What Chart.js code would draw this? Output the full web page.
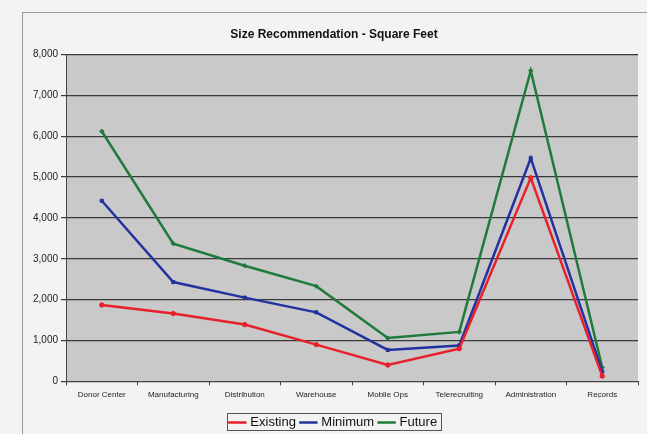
<!DOCTYPE html>
<html>
<head>
<meta charset="utf-8">
<script src="https://cdn.jsdelivr.net/npm/chart.js@4"></script>
<style>
  html, body { margin: 0; padding: 0; background: #f3f3f1; }
  #wrap { position: relative; width: 647px; height: 434px; }
</style>
</head>
<body>
<div id="wrap"><canvas id="line" width="647" height="434"></canvas></div>
<script>
'use strict';

const categories = ['Donor Center', 'Manufacturing', 'Distribution', 'Warehouse',
    'Mobile Ops', 'Telerecruiting', 'Administration', 'Records'];
const existing = [1870, 1660, 1390, 900, 400, 800, 4980, 130];
const minimum = [4420, 2430, 2050, 1690, 770, 880, 5460, 240];
const future = [6120, 3370, 2830, 2330, 1060, 1210, 7600, 340];
const yTicks = [0, 1000, 2000, 3000, 4000, 5000, 6000, 7000, 8000];

// gray plot area + outer frame + box round the legend
const paintBox = {
    id: 'paintBox',
    beforeDraw(chart) {
        const ctx = chart.ctx;
        const a = chart.chartArea;
        ctx.save();
        ctx.strokeStyle = '#9a9a9a';
        ctx.lineWidth = 1;
        ctx.strokeRect(22.5, 12.5, 640, 440);
        ctx.fillStyle = '#c9c9c9';
        ctx.fillRect(a.left, a.top, a.right - a.left, a.bottom - a.top);
        ctx.restore();
    },
    afterDraw(chart) {
        const ctx = chart.ctx;
        const items = chart.legend.legendHitBoxes;
        if (!items || !items.length) return;
        const x0 = items[0].left - 4;
        const last = items[items.length - 1];
        const x1 = last.left + last.width + 4;
        ctx.save();
        ctx.strokeStyle = '#555';
        ctx.lineWidth = 1;
        ctx.strokeRect(Math.round(x0) + 0.5, Math.round(items[0].top) - 2.5, Math.round(x1 - x0), items[0].height + 4);
        ctx.restore();
    }
};

const font = 'Arial, "Liberation Sans", sans-serif';

const line = document.getElementById('line');
const lineChart = new Chart(line, {
    type: 'line',
    data: {
        labels: categories,
        datasets: [{
            label: 'Existing',
            data: existing,
            borderColor: '#e8202c',
            backgroundColor: '#e8202c',
            borderWidth: 2.5,
            pointBorderWidth: 1,
            pointStyle: 'circle'
        }, {
            label: 'Minimum',
            data: minimum,
            borderColor: '#2432a0',
            backgroundColor: '#2432a0',
            borderWidth: 2.5,
            pointBorderWidth: 1,
            pointStyle: 'rect'
        }, {
            label: 'Future',
            data: future,
            borderColor: '#1f7a3c',
            backgroundColor: '#1f7a3c',
            borderWidth: 2.5,
            pointBorderWidth: 1,
            pointStyle: 'rectRot'
        }]
    },
    options: {
        responsive: false,
        animation: false,
        elements: {
            line: { tension: 0 },
            point: { radius: 2.2 }
        },
        layout: { padding: { left: 30, right: 9, top: 0, bottom: -5 } },
        plugins: {
            title: {
                display: true,
                text: 'Size Recommendation - Square Feet',
                color: '#111',
                font: { family: font, size: 12, weight: 'bold' },
                padding: { top: 27, bottom: 13 }
            },
            legend: {
                position: 'bottom',
                labels: {
                    usePointStyle: true,
                    pointStyle: 'line',
                    boxWidth: 26,
                    padding: 6,
                    color: '#111',
                    font: { family: font, size: 13 },
                    generateLabels(chart) {
                        const items = Chart.defaults.plugins.legend.labels.generateLabels(chart);
                        items.forEach(it => { it.lineWidth = 2.5; });
                        return items;
                    }
                }
            },
            tooltip: { enabled: false }
        },
        scales: {
            x: {
                offset: true,
                grid: { drawOnChartArea: false, tickLength: 4, color: '#444', offset: true },
                border: { color: '#444' },
                afterFit(scale) { scale.height += 5; },
                ticks: {
                    color: '#222',
                    font: { family: font, size: 8 },
                    maxRotation: 0,
                    autoSkip: false,
                    padding: 5
                }
            },
            y: {
                min: 0,
                max: 8000,
                afterBuildTicks(axis) {
                    axis.ticks = yTicks.map(v => ({ value: v }));
                },
                grid: { color: '#3a3a3a', lineWidth: 1.2, tickLength: 5 },
                border: { color: '#444' },
                ticks: {
                    color: '#222',
                    font: { family: font, size: 10 },
                    padding: 3,
                    callback: v => v.toLocaleString('en-US')
                }
            }
        }
    },
    plugins: [paintBox]
});
</script>
</body>
</html>
